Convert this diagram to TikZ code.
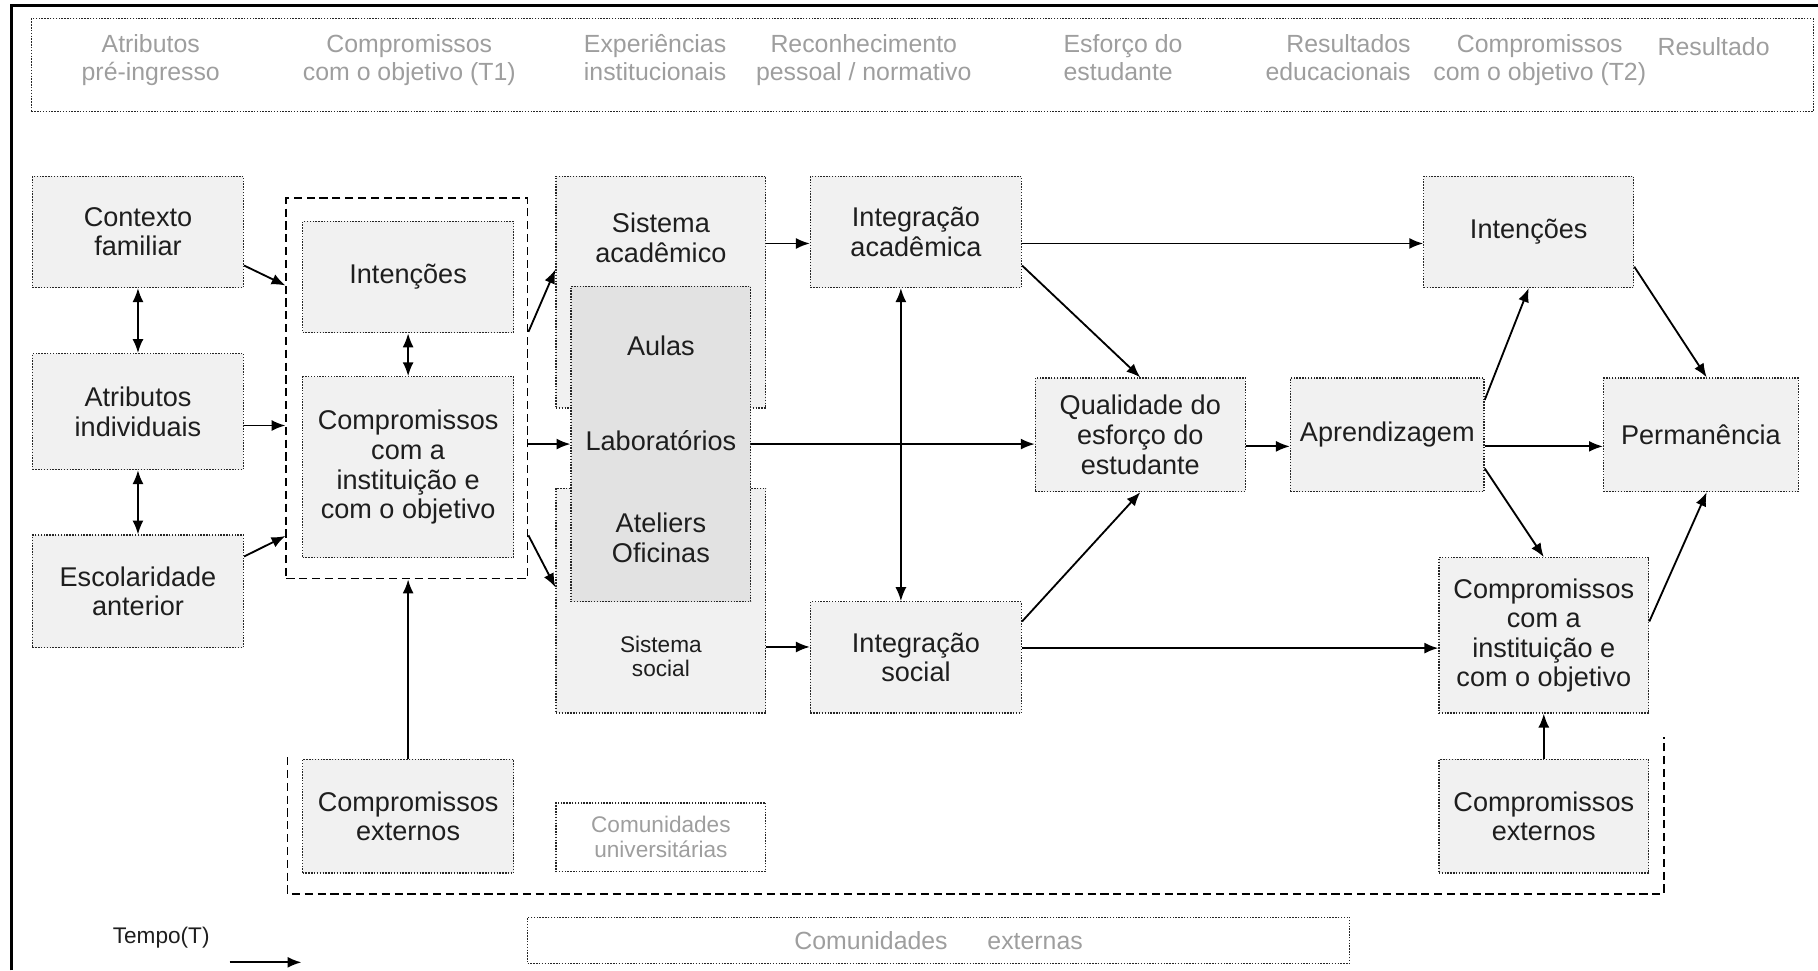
\documentclass[tikz,border=0pt]{standalone}
\usepackage{fontspec}
\setmainfont{Liberation Sans}
\usepackage{xcolor}
\usepackage{tikz}
\usetikzlibrary{arrows.meta}
\definecolor{boxgray}{HTML}{F1F1F1}
\definecolor{innergray}{HTML}{E2E2E2}
\definecolor{labelgray}{HTML}{9E9E9E}
\definecolor{textdark}{HTML}{1E1E1E}
\tikzstyle{blockbox} = [rectangle, draw=black!85, line width=0.6pt, dash pattern=on 0.7pt off 0.7pt, fill=boxgray, minimum width=3.64cm, minimum height=1.92cm, align=center, text=textdark, font=\fontsize{13.3}{14.5}\selectfont]
\tikzstyle{textonly} = [align=center, text=textdark, font=\fontsize{13.3}{14.5}\selectfont]
\tikzstyle{smalltext} = [align=center, text=textdark, font=\fontsize{11.1}{12}\selectfont]
\tikzstyle{headtext} = [align=center, text=labelgray, inner sep=0pt, font=\fontsize{12.2}{13.7}\selectfont]
\tikzstyle{groupline} = [draw=black, line width=0.9pt, dash pattern=on 4pt off 2.3pt]
\tikzstyle{arrow} = [-{Latex[length=2.4mm,width=1.9mm]}, line width=0.9pt]
\tikzstyle{biarrow} = [{Latex[length=2.4mm,width=1.9mm]}-{Latex[length=2.4mm,width=1.9mm]}, line width=0.9pt]

\begin{document}
\begin{tikzpicture}[x=0.02cm, y=-0.02cm]
\useasboundingbox (0,0) rectangle (1568,837);

% Frame and header strip
\draw[line width=1.5pt] (10,837) -- (10,4.5) -- (1568,4.5);
\node[blockbox, fill=none, minimum width=30.74cm, minimum height=1.6cm] (hdr) at (795.5,56) {};
\node[headtext] (hAtr) at (130,52) {Atributos\\pré-ingresso};
\node[headtext] (hCmp1) at (353,52) {Compromissos\\com o objetivo (T1)};
\node[headtext] (hExp) at (565,49.5) {Experiências\\institucionais};
\node[headtext] (hRec) at (745,52) {Reconhecimento\\pessoal / normativo};
\node[headtext, align=left, anchor=west] (hEsf) at (917,49.5) {Esforço do\\estudante};
\node[headtext, align=right, anchor=east] (hRes) at (1217,49.5) {Resultados\\educacionais};
\node[headtext] (hCmp2) at (1328,52) {Compromissos\\com o objetivo (T2)};
\node[headtext] (hRslt) at (1478,40) {Resultado};

% Pre-entry attributes
\node[blockbox] (ctx) at (119,200) {Contexto\\familiar};
\node[blockbox, minimum height=2cm] (atr) at (119,355) {Atributos\\individuais};
\node[blockbox, minimum height=1.94cm] (esc) at (119,510) {Escolaridade\\anterior};

% Commitments (T1) inside the dashed group
\node[groupline, minimum width=4.16cm, minimum height=6.56cm] (grp) at (351,335) {};
\node[blockbox] (intA) at (352,239) {Intenções};
\node[blockbox, minimum height=3.12cm] (cmpA) at (352,403) {Compromissos\\com a\\instituição e\\com o objetivo};
\node[blockbox, minimum height=1.96cm] (extA) at (352,704) {Compromissos\\externos};

% Institutional experiences
\node[blockbox, minimum width=3.62cm, minimum height=4cm] (sAc) at (570,252) {};
\node[blockbox, minimum width=3.62cm, minimum height=3.88cm] (sSo) at (570,518) {};
\node[textonly] (sAcTxt) at (570,205) {Sistema\\acadêmico};
\node[smalltext] (sSoTxt) at (570,566) {Sistema\\social};
\node[blockbox, fill=innergray, minimum width=3.1cm, minimum height=5.44cm] (inner) at (570,383) {};
\node[textonly] (aulas) at (570,298) {Aulas};
\node[textonly] (labs) at (570,380) {Laboratórios};
\node[textonly] (atel) at (570,464) {Ateliers\\Oficinas};
\node[blockbox, fill=none, minimum width=3.62cm, minimum height=1.18cm, text=labelgray, font=\fontsize{11.1}{12}\selectfont] (comU) at (570,722) {Comunidades\\universitárias};

% Integration, effort and outcomes
\node[blockbox] (intAc) at (790,200) {Integração\\acadêmica};
\node[blockbox] (intSo) at (790,567) {Integração\\social};
\node[blockbox, minimum width=3.62cm, minimum height=1.96cm] (qual) at (983.5,375) {Qualidade do\\esforço do\\estudante};
\node[blockbox, minimum width=3.34cm, minimum height=1.96cm] (apr) at (1196.5,375) {Aprendizagem};
\node[blockbox, minimum width=3.36cm, minimum height=1.96cm] (perm) at (1467,375) {Permanência};
\node[blockbox, minimum width=3.62cm] (intB) at (1318.5,200) {Intenções};
\node[blockbox, minimum width=3.62cm, minimum height=2.68cm] (cmpB) at (1331.5,548) {Compromissos\\com a\\instituição e\\com o objetivo};
\node[blockbox, minimum width=3.62cm, minimum height=1.96cm] (extB) at (1331.5,704) {Compromissos\\externos};

% External communities and time
\draw[groupline] (248,653) |- (1435,771) -- (1435,636);
\node[blockbox, fill=none, minimum width=14.18cm, minimum height=0.8cm, text=labelgray, font=\fontsize{12.2}{13.7}\selectfont] (comE) at (809.5,811) {Comunidades\hspace{1.6em}externas};
\node[smalltext] (tempo) at (139,809) {Tempo(T)};
\coordinate (tStart) at (198,830);
\coordinate (tEnd) at (260,830);
\draw[arrow] (tStart) -- (tEnd);

% Left column arrows
\draw[biarrow] (ctx) -- (atr);
\draw[biarrow] (atr) -- (esc);
\draw[arrow] ([yshift=-0.58cm]ctx.east) -- ([yshift=-1.52cm]grp.north west);
\draw[arrow] ([yshift=-0.24cm]atr.east) -- ([yshift=-0.24cm]atr.east -| grp.west);
\draw[arrow] ([yshift=0.6cm]esc.east) -- ([yshift=0.75cm]grp.south west);
\draw[biarrow] (intA) -- (cmpA);
\draw[arrow] (extA.north) -- (extA.north |- grp.south);

% Group to institutional experiences
\draw[arrow] ([yshift=-2.32cm]grp.north east) -- ([yshift=-1.62cm]sAc.north west);
\draw[arrow] (inner.west -| grp.east) -- (inner.west);
\draw[arrow] ([yshift=0.76cm]grp.south east) -- ([yshift=-1.72cm]sSo.north west);
\draw[arrow] ([yshift=-0.2cm]intAc.west -| sAc.east) -- ([yshift=-0.2cm]intAc.west);
\draw[arrow] ([yshift=0.18cm]intSo.west -| sSo.east) -- ([yshift=0.18cm]intSo.west);
\draw[biarrow] ([xshift=-0.26cm]intAc.south) -- ([xshift=-0.26cm]intSo.north);
\draw[arrow] (inner.east) -- (inner.east -| qual.west);

% Towards outcomes
\draw[arrow] ([yshift=-0.2cm]intAc.east) -- ([yshift=-0.2cm]intAc.east -| intB.west);
\draw[arrow] ([yshift=-0.58cm]intAc.east) -- (qual.north);
\draw[arrow] ([yshift=0.62cm]intSo.east) -- (qual.south);
\draw[arrow] ([yshift=0.16cm]intSo.east) -- ([yshift=0.16cm]intSo.east -| cmpB.west);
\draw[arrow] ([yshift=-0.2cm]qual.east) -- ([yshift=-0.2cm]apr.west);
\draw[arrow] ([yshift=-0.2cm]apr.east) -- ([yshift=-0.2cm]perm.west);
\draw[arrow] ([yshift=0.6cm]apr.east) -- (intB.south);
\draw[arrow] ([yshift=-0.58cm]apr.east) -- (cmpB.north);
\draw[arrow] ([yshift=-0.6cm]intB.east) -- ([xshift=0.1cm]perm.north);
\draw[arrow] ([yshift=0.24cm]cmpB.east) -- ([xshift=0.1cm]perm.south);
\draw[arrow] (extB.north) -- (cmpB.south);

\end{tikzpicture}
\end{document}
